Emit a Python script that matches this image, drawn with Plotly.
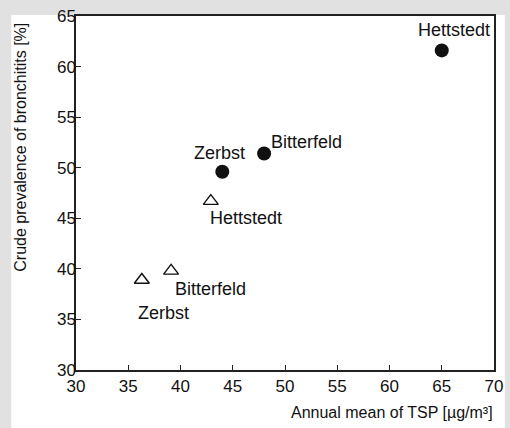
import plotly.graph_objects as go

# Data
circle_towns = ["Zerbst", "Bitterfeld", "Hettstedt"]
circle_tsp = [44.0, 48.0, 65.0]
circle_prev = [49.6, 51.4, 61.6]

tri_towns = ["Hettstedt", "Bitterfeld", "Zerbst"]
tri_tsp = [42.9, 39.1, 36.3]
tri_prev = [46.7, 39.8, 38.9]

x_ticks = [30, 35, 40, 45, 50, 55, 60, 65, 70]
y_ticks = [30, 35, 40, 45, 50, 55, 60, 65]

FONT = "Liberation Sans, Arial, sans-serif"
INK = "#111111"

fig = go.Figure()
fig.add_trace(go.Scatter(
    x=circle_tsp, y=circle_prev, mode="markers",
    marker=dict(symbol="circle", size=14, color=INK),
    showlegend=False, hoverinfo="skip"))
fig.add_trace(go.Scatter(
    x=tri_tsp, y=tri_prev, mode="markers",
    marker=dict(symbol="triangle-up-open", size=13, color=INK,
                line=dict(width=1.4, color=INK)),
    showlegend=False, hoverinfo="skip"))

# label placement (pixel offsets relative to points)
circle_offsets = [
    dict(xanchor="center", xshift=-3, yshift=19),
    dict(xanchor="left", xshift=5, yshift=12),
    dict(xanchor="center", xshift=12, yshift=20),
]
tri_offsets = [
    dict(xanchor="left", xshift=-3, yshift=-17),
    dict(xanchor="left", xshift=2, yshift=-18),
    dict(xanchor="left", xshift=-6, yshift=-33),
]
annotations = []
for t, x, y, o in zip(circle_towns, circle_tsp, circle_prev, circle_offsets):
    annotations.append(dict(x=x, y=y, xref="x", yref="y", text=t, showarrow=False,
                            yanchor="middle", font=dict(family=FONT, size=18, color=INK), **o))
for t, x, y, o in zip(tri_towns, tri_tsp, tri_prev, tri_offsets):
    annotations.append(dict(x=x, y=y, xref="x", yref="y", text=t, showarrow=False,
                            yanchor="middle", font=dict(family=FONT, size=18, color=INK), **o))

annotations.append(dict(text="Crude prevalence of bronchitits [%]", xref="paper", yref="paper",
                        x=-0.133, y=0.629, textangle=-90, showarrow=False,
                        xanchor="center", yanchor="middle",
                        font=dict(family=FONT, size=16, color=INK)))
annotations.append(dict(text="Annual mean of TSP [µg/m³]", xref="paper", yref="paper",
                        x=1.002, y=-0.121, showarrow=False,
                        xanchor="right", yanchor="middle",
                        font=dict(family=FONT, size=16, color=INK)))

axis_common = dict(showgrid=False, zeroline=False, showline=True, linecolor="#222222",
                   linewidth=1.5, mirror=True, ticks="inside", ticklen=5, tickwidth=1,
                   tickcolor="#222222", ticklabeloverflow="allow",
                   tickfont=dict(family=FONT, size=17, color=INK))

fig.update_layout(
    width=510, height=428,
    margin=dict(l=76, r=14, t=7, b=58),
    paper_bgcolor="#e1e1e1", plot_bgcolor="white",
    xaxis=dict(range=[30, 70], tickvals=x_ticks, ticktext=[str(v) for v in x_ticks], **axis_common),
    yaxis=dict(range=[30, 65], tickvals=y_ticks, ticktext=[str(v) for v in y_ticks],
               ticklabelstandoff=-5, **axis_common),
    annotations=annotations,
    shapes=[dict(type="rect", xref="paper", yref="paper", x0=-0.155, x1=1.026,
                 y0=-0.3, y1=1.003, fillcolor="white", line=dict(width=0), layer="below")],
)

fig.write_html("out.html", config={"displayModeBar": False},
               post_script="document.body.style.margin='0';document.body.style.background='#e1e1e1';")
